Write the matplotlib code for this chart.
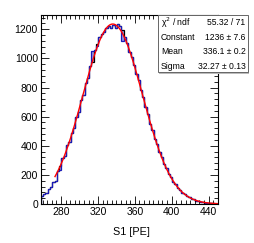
import numpy as np
import matplotlib
matplotlib.use("Agg")
import matplotlib.pyplot as plt
from matplotlib.ticker import MultipleLocator

# ---- data ----
bin_lo = 258.0
bin_width = 2.5
blue_counts = [55, 72, 78, 105, 118, 152, 160, 225, 235, 318, 330, 408, 425, 490,
               520, 600, 630, 712, 748, 830, 862, 945, 1050, 1055, 1082, 1150, 1165,
               1180, 1210, 1225, 1208, 1228, 1212, 1238, 1222, 1120, 1150, 1108, 1045,
               1012, 958, 895, 850, 780, 735, 668, 620, 552, 510, 448, 412, 355, 325,
               272, 250, 208, 188, 150, 136, 110, 98, 76, 68, 52, 46, 35, 31, 22, 20,
               14, 13, 9, 8, 5, 5, 3, 3]
black_counts = [55, 72, 78, 105, 118, 152, 160, 225, 262, 318, 330, 408, 425, 490,
                520, 600, 630, 712, 748, 830, 862, 945, 975, 1055, 1100, 1150, 1165,
                1180, 1210, 1225, 1208, 1228, 1212, 1238, 1222, 1195, 1150, 1108, 1045,
                1012, 958, 895, 850, 780, 735, 668, 620, 552, 510, 448, 412, 355, 325,
                272, 250, 208, 188, 150, 136, 110, 98, 76, 68, 52, 46, 35, 31, 22, 20,
                14, 13, 9, 8, 5, 5, 3, 3]
fit_constant = 1236.0
fit_mean = 336.1
fit_sigma = 32.27
fit_range = (273.5, 451.0)
stats_labels = ["\u03c7$^2$ / ndf", "Constant", "Mean", "Sigma"]
stats_values = ["55.32 / 71", "1236 \u00b1 7.6", "336.1 \u00b1 0.2", "32.27 \u00b1 0.13"]
x_label = "S1 [PE]"

plt.rcParams['font.family'] = ['Liberation Sans', 'DejaVu Sans']

W, H = 254, 243
fig = plt.figure(figsize=(W / 100, H / 100), dpi=100)
ax = fig.add_axes([40.7 / W, 1 - 204 / H, (218.3 - 40.7) / W, (204 - 15) / H])

n = len(blue_counts)
edges = bin_lo + bin_width * np.arange(n + 1)
blue = np.array(blue_counts, dtype=float)
black = np.array(black_counts, dtype=float)

# fill between the two histograms
ax.fill_between(edges, np.append(black, black[-1]), np.append(blue, blue[-1]),
                step='post', color='#9a9ae0', lw=0)
ax.stairs(black, edges, color='black', lw=0.9)
ax.stairs(blue, edges, color='#1a1ab8', lw=0.9)

xf = np.linspace(fit_range[0], fit_range[1], 400)
yf = fit_constant * np.exp(-0.5 * ((xf - fit_mean) / fit_sigma) ** 2)
ax.plot(xf, yf, color='red', lw=1.0)

ax.set_xlim(edges[0], edges[-1])
ax.set_ylim(0, 1298)
ax.xaxis.set_major_locator(MultipleLocator(40))
ax.xaxis.set_minor_locator(MultipleLocator(5))
ax.yaxis.set_major_locator(MultipleLocator(200))
ax.yaxis.set_minor_locator(MultipleLocator(40))
ax.tick_params(which='both', direction='in', top=True, right=True, width=0.6,
               labelsize=7.5, pad=2)
ax.tick_params(which='major', length=5.5)
ax.tick_params(which='minor', length=2.8)
for s in ax.spines.values():
    s.set_linewidth(0.8)
fig.text(131 / W, 1 - 232 / H, x_label, fontsize=7.8, ha='center', va='center')

# stats box
bx0, bx1 = 157.5 / W, 248 / W
by0, by1 = 1 - 72.5 / H, 1 - 15 / H
shadow = plt.Rectangle((bx0 + 1.2 / W, by0 - 1.2 / H), bx1 - bx0, by1 - by0,
                       transform=fig.transFigure, facecolor='#bbbbbb', lw=0, zorder=4)
fig.patches.append(shadow)
rect = plt.Rectangle((bx0, by0), bx1 - bx0, by1 - by0, transform=fig.transFigure,
                     facecolor='white', edgecolor='#666666', lw=0.7, zorder=5)
fig.patches.append(rect)
ys = [22.5, 37.5, 52, 66.5]
for lab, val, yy in zip(stats_labels, stats_values, ys):
    fig.text(bx0 + 3.5 / W, 1 - yy / H, lab, fontsize=6.2, va='center', ha='left', zorder=6)
    fig.text(bx1 - 2.5 / W, 1 - yy / H, val, fontsize=6.2, va='center', ha='right', zorder=6)

fig.savefig("out.png", dpi=100)
